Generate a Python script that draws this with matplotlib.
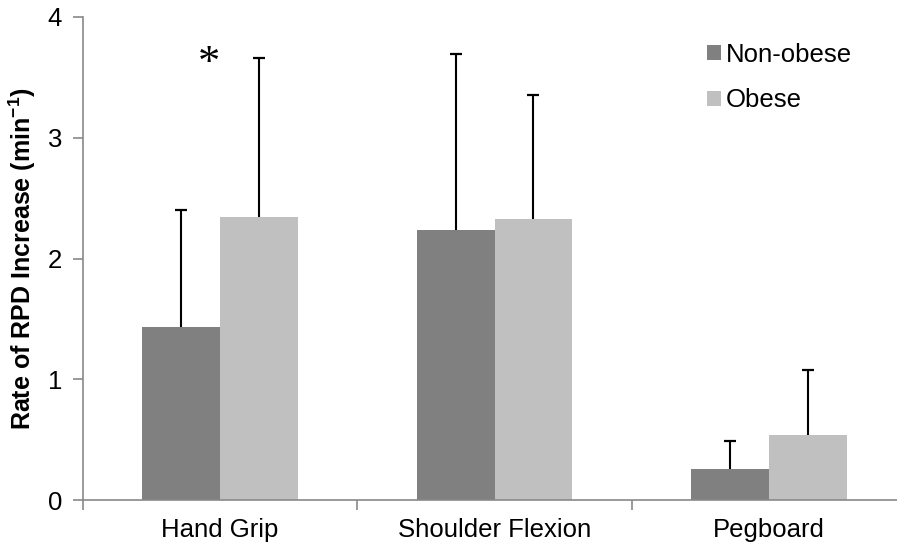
import matplotlib
matplotlib.use('Agg')
import matplotlib.pyplot as plt
import numpy as np

plt.rcParams['font.family'] = ['Liberation Sans', 'DejaVu Sans']
plt.rcParams['mathtext.fontset'] = 'custom'
plt.rcParams['mathtext.rm'] = 'Liberation Sans'
plt.rcParams['mathtext.bf'] = 'Liberation Sans:bold'
plt.rcParams['mathtext.default'] = 'bf'

# rate of RPD increase per task, mean and SD (upper bars only)
tasks = ['Hand Grip', 'Shoulder Flexion', 'Pegboard']
non_obese = [1.43, 2.24, 0.26]
non_obese_sd = [0.97, 1.45, 0.23]
obese = [2.34, 2.33, 0.54]
obese_sd = [1.32, 1.02, 0.54]
yticks = [0, 1, 2, 3, 4]

fig = plt.figure(figsize=(8.97, 5.48), dpi=100)
ax = fig.add_axes([83/897, 48/548, 823/897, 483/548])

x = np.arange(len(tasks))
w = 0.284
groups = [(x - w/2, non_obese, non_obese_sd, '#808080', 'Non-obese'),
          (x + w/2, obese, obese_sd, '#c0c0c0', 'Obese')]
for xs, vals, sd, col, lab in groups:
    vals = np.array(vals)
    sd = np.array(sd)
    ax.bar(xs, vals, w, color=col, label=lab, zorder=2)
    # upper half of the error bar only, cap on top
    ax.vlines(xs, vals, vals + sd, color='black', lw=1.5, zorder=3)
    ax.plot(xs, vals + sd, ls='none', marker='_', ms=9, mew=1.6, color='black', zorder=3)

# significance marker over hand grip
ax.text(-0.04, 3.61, '*', ha='center', va='center', fontsize=32,
        family='Liberation Serif', color='black')

ax.set_xlim(-0.5, 2.5)
ax.set_ylim(0, 4)
ax.set_yticks(yticks)
ax.set_xticks(x)
ax.set_xticklabels(tasks, fontsize=18.5)
ax.set_xticks([-0.5, 0.5, 1.5, 2.5], minor=True)
ax.tick_params(axis='x', which='major', length=0, pad=13)
ax.tick_params(axis='x', which='minor', length=7, width=1.2, color='#898989', direction='out')
ax.tick_params(axis='y', labelsize=18.5, length=7, width=1.2, color='#898989', direction='out', pad=8)

for s in ['top', 'right']:
    ax.spines[s].set_visible(False)
for s in ['left', 'bottom']:
    ax.spines[s].set_color('#898989')
    ax.spines[s].set_linewidth(1.2)

ax.set_ylabel(r'Rate of RPD Increase (min$^{-1}$)', fontsize=18, fontweight='bold', labelpad=7)

ax.legend(loc='upper left', bbox_to_anchor=(0.73, 0.995), frameon=False, fontsize=18.5,
          handlelength=0.55, handleheight=0.55, handletextpad=0.2, labelspacing=0.85)

fig.savefig('out.png', dpi=100)
